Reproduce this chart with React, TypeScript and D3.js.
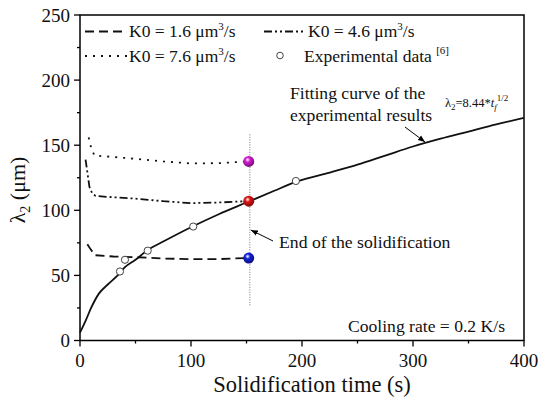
import React from "react";
import * as d3 from "d3";

const W = 538;
const H = 404;

const fitTime = [0, 5, 10, 17, 25, 35, 40, 50, 61, 75, 100, 125, 150, 175, 195, 225, 250, 275, 300, 325, 350, 375, 400];
const fitLambda = [6, 15, 25, 36, 43, 51, 56, 62, 69.5, 76, 87, 97, 106, 115, 122, 129, 135, 142, 149, 155, 160.5, 166, 171];

// simulated curves
const k16Time = [6.6, 9.6, 13.5, 30, 50, 75, 100, 125, 150];
const k16Lambda = [74, 70, 65.5, 64.5, 64, 63, 62.5, 62.5, 63.4];
const k46Time = [5, 7, 8.5, 11, 14, 30, 50, 75, 100, 125, 150];
const k46Lambda = [139, 127, 118, 113, 111, 110, 109, 107, 105.5, 106, 107];
const k76Time = [7.8, 10, 13, 30, 50, 75, 100, 125, 150];
const k76Lambda = [156, 148, 142, 141, 139.5, 137.5, 136, 136.2, 137.5];

// experimental data [6]
const expTime = [36, 40.5, 61, 102, 194.5];
const expLambda = [53, 62, 69, 87.5, 122.5];

// end of solidification
const endTime = 152;
const endLambda = [137.5, 107, 63.3];
const endColors = ["#d11ad1", "#e01010", "#1020d8"];
const endLineTime = 153;
const endLineRange = [27, 159];

const xTicks = [0, 100, 200, 300, 400];
const yTicks = [0, 50, 100, 150, 200, 250];
const xMinor = [50, 150, 250, 350];
const yMinor = [25, 75, 125, 175, 225];

const FONT = '"Liberation Serif", "Times New Roman", serif';
const INK = "#111";

const margin = { top: 15, right: 14, bottom: 63.5, left: 80 };
const x = d3.scaleLinear().domain([0, 400]).range([margin.left, W - margin.right]);
const y = d3.scaleLinear().domain([0, 250]).range([H - margin.bottom, margin.top]);

const zip = (t: number[], v: number[]) => t.map((d, i) => [d, v[i]] as [number, number]);
const smooth = d3.line<[number, number]>().x(d => x(d[0])).y(d => y(d[1])).curve(d3.curveMonotoneX);
const straight = d3.line<[number, number]>().x(d => x(d[0])).y(d => y(d[1]));

const series = [
  { key: "k16", t: k16Time, v: k16Lambda, dash: "9 5" },
  { key: "k46", t: k46Time, v: k46Lambda, dash: "8 3 2 3 2 3" },
  { key: "k76", t: k76Time, v: k76Lambda, dash: "2 6" },
];

function UnitLabel({ x: lx, y: ly, label }: { x: number; y: number; label: string }) {
  return (
    <text x={lx} y={ly} fill={INK} fontSize={17.5}>
      <tspan>{label} μm</tspan>
      <tspan fontSize={11} dy={-7}>3</tspan>
      <tspan dy={7}>/s</tspan>
    </text>
  );
}

export default function App() {
  const y0 = y(0);
  const x0 = x(0);
  return (
    <svg
      width={W}
      height={H}
      style={{ position: "absolute", left: 0, top: 0, background: "#fff", display: "block", fontFamily: FONT }}
    >
      <defs>
        {endColors.map((c, i) => (
          <radialGradient key={c} id={`ball${i}`} cx="40%" cy="35%" r="65%">
            <stop offset="0%" stopColor="#ffffff" />
            <stop offset="35%" stopColor={c} />
            <stop offset="100%" stopColor={d3.color(c)!.darker(1.6).toString()} />
          </radialGradient>
        ))}
        <marker id="arrow" viewBox="0 0 10 10" refX={10} refY={5} markerWidth={7} markerHeight={7}
          markerUnits="userSpaceOnUse" orient="auto">
          <path d="M0,1 L10,5 L0,9 Z" fill="#000" />
        </marker>
      </defs>

      {/* ticks, pointing outward */}
      <g stroke="#000" strokeWidth={1.3}>
        {xTicks.map(t => <line key={`xt${t}`} x1={x(t)} x2={x(t)} y1={y0} y2={y0 + 6} />)}
        {xMinor.map(t => <line key={`xm${t}`} x1={x(t)} x2={x(t)} y1={y0} y2={y0 + 3} />)}
        {yTicks.map(t => <line key={`yt${t}`} x1={x0} x2={x0 - 6} y1={y(t)} y2={y(t)} />)}
        {yMinor.map(t => <line key={`ym${t}`} x1={x0} x2={x0 - 3} y1={y(t)} y2={y(t)} />)}
      </g>
      <g fill={INK} fontSize={19}>
        {xTicks.map(t => <text key={`xl${t}`} x={x(t)} y={y0 + 26} textAnchor="middle">{t}</text>)}
        {yTicks.map(t => <text key={`yl${t}`} x={x0 - 10} y={y(t) + 6.5} textAnchor="end">{t}</text>)}
      </g>

      {/* frame */}
      <rect x={x0} y={y(250)} width={x(400) - x0} height={y0 - y(250)} fill="none" stroke="#000" strokeWidth={1.5} />

      {/* end of solidification line */}
      <line x1={x(endLineTime)} x2={x(endLineTime)} y1={y(endLineRange[0])} y2={y(endLineRange[1])}
        stroke="#666" strokeWidth={0.9} strokeDasharray="1 1.5" />

      {series.map(s => (
        <path key={s.key} d={straight(zip(s.t, s.v)) || ""} fill="none" stroke={INK} strokeWidth={1.8}
          strokeDasharray={s.dash} />
      ))}
      <path d={smooth(zip(fitTime, fitLambda)) || ""} fill="none" stroke={INK} strokeWidth={1.8} />

      {zip(expTime, expLambda).map(d => (
        <circle key={`e${d[0]}`} cx={x(d[0])} cy={y(d[1])} r={3.6} fill="#fff" stroke="#444" strokeWidth={1} />
      ))}
      {endLambda.map((v, i) => (
        <circle key={`b${i}`} cx={x(endTime)} cy={y(v)} r={5.5} fill={`url(#ball${i})`} />
      ))}

      {/* legend */}
      <line x1={85} x2={127} y1={31.5} y2={31.5} stroke={INK} strokeWidth={1.8} strokeDasharray={series[0].dash} />
      <UnitLabel x={129} y={37} label="K0 = 1.6" />
      <line x1={264} x2={304} y1={31.5} y2={31.5} stroke={INK} strokeWidth={1.8} strokeDasharray={series[1].dash} />
      <UnitLabel x={308} y={37} label="K0 = 4.6" />
      <line x1={85} x2={127} y1={56} y2={56} stroke={INK} strokeWidth={1.8} strokeDasharray={series[2].dash} />
      <UnitLabel x={129} y={61.5} label="K0 = 7.6" />
      <circle cx={280} cy={55.5} r={3.3} fill="#fff" stroke="#444" strokeWidth={1} />
      <text x={304} y={61.5} fill={INK} fontSize={17.5}>
        <tspan>Experimental data </tspan>
        <tspan fontSize={11} dy={-8}>[6]</tspan>
      </text>

      {/* annotations */}
      <text x={290} y={99} fill={INK} fontSize={17.6}>Fitting curve of the</text>
      <text x={290} y={121} fill={INK} fontSize={17.6}>experimental results</text>
      <text x={445} y={107} fill={INK} fontSize={12.5}>
        <tspan>λ</tspan>
        <tspan fontSize={9} dy={3}>2</tspan>
        <tspan dy={-3}>=8.44*</tspan>
        <tspan fontStyle="italic">t</tspan>
        <tspan fontStyle="italic" fontSize={9} dy={3}>f</tspan>
        <tspan fontSize={9} dy={-9}>1/2</tspan>
      </text>
      <text x={279} y={248} fill={INK} fontSize={17.7}>End of the solidification</text>
      <text x={505} y={332} textAnchor="end" fill={INK} fontSize={17.6}>Cooling rate = 0.2 K/s</text>
      <text x={312} y={392} textAnchor="middle" fill={INK} fontSize={22.5}>Solidification time (s)</text>
      <text transform="translate(25,190) rotate(-90)" textAnchor="middle" fill={INK} fontSize={22}>
        <tspan>λ</tspan>
        <tspan fontSize={14} dy={5}>2</tspan>
        <tspan dy={-5}> (μm)</tspan>
      </text>

      <line x1={405} y1={127} x2={425} y2={142} stroke="#000" strokeWidth={1} markerEnd="url(#arrow)" />
      <line x1={273} y1={241} x2={x(endLineTime) + 1} y2={230} stroke="#000" strokeWidth={1} markerEnd="url(#arrow)" />
    </svg>
  );
}
